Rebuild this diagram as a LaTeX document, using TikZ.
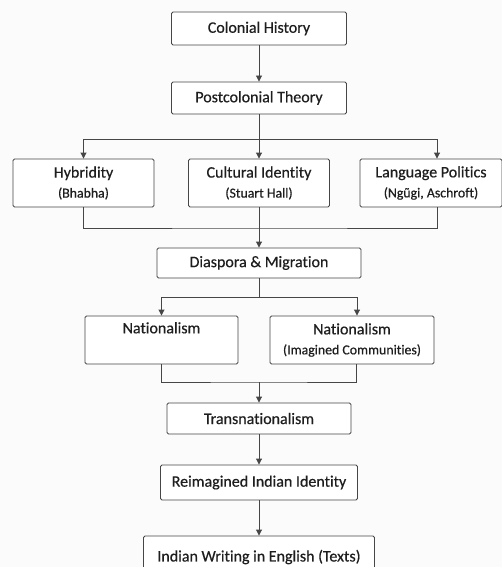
\documentclass[tikz,border=0pt]{standalone}
\usepackage{fontspec}
\setmainfont{Carlito}[FakeBold=0.5, Ligatures=NoCommon]
\usetikzlibrary{arrows.meta}
\newcommand{\subsize}{\fontsize{13.8}{15}\selectfont}
\begin{document}
\begin{tikzpicture}[x=1pt, y=-1pt, >={Triangle[length=6pt, width=6pt]}, font=\fontsize{16}{18}\selectfont]
	\definecolor{linegray}{RGB}{70, 70, 70}
	\definecolor{textdark}{RGB}{30, 30, 30}
	\tikzset{
		box/.style={draw=linegray, line width=0.9pt, rounded corners=1.5pt, fill=white, text=textdark, align=center, inner sep=0pt},
		link/.style={draw=linegray, line width=0.9pt}
	}
	\clip (0,0) rectangle (502,567);
	\fill[gray!3] (0,0) rectangle (502,567);
	\node[box, minimum width=175, minimum height=33] (colonial) at (259,28.5) {Colonial History};
	\node[box, minimum width=175, minimum height=32] (postcol) at (259,98) {Postcolonial Theory};
	% three theory boxes
	\node[box, minimum width=141, minimum height=48] (hyb) at (83.5,183) {Hybridity\\[2pt]{\subsize (Bhabha)}};
	\node[box, minimum width=141, minimum height=48] (cult) at (259,183) {Cultural Identity\\[2pt]{\subsize (Stuart Hall)}};
	\node[box, minimum width=142, minimum height=48] (lang) at (431,183) {Language Politics\\[2pt]{\subsize (Ngũgi, Aschroft)}};
	\node[box, minimum width=204, minimum height=30] (diasp) at (259,263) {Diaspora \& Migration};
	\node[box, minimum width=153, minimum height=48] (nat1) at (161.5,340) {Nationalism\\[2pt]{\subsize\strut}};
	\node[box, minimum width=164, minimum height=48] (nat2) at (352,340) {Nationalism\\[2pt]{\subsize (Imagined Communities)}};
	\node[box, minimum width=184, minimum height=31] (trans) at (259,418.5) {Transnationalism};
	\node[box, minimum width=197, minimum height=35] (reim) at (259,482.5) {Reimagined Indian Identity};
	\node[box, minimum width=231, minimum height=42] (iwe) at (259,557) {Indian Writing in English (Texts)};
	% junctions
	\coordinate (split1) at (259,139);
	\coordinate (merge1) at (259,228);
	\coordinate (split2) at (259,297);
	\coordinate (merge2) at (259,382);
	\draw[link, ->] (colonial) -- (postcol);
	\draw[link] (postcol) -- (split1);
	\draw[link, ->] (split1) -| (hyb.north);
	\draw[link, ->] (split1) -- (cult);
	\draw[link, ->] (split1) -| ([xshift=6pt]lang.north);
	\draw[link] (hyb) |- (merge1) -| ([xshift=6pt]lang.south);
	\draw[link, ->] (cult) -- (diasp);
	\draw[link] (diasp) -- (split2);
	\draw[link, ->] (split2) -| (nat1.north);
	\draw[link, ->] (split2) -| ([xshift=5pt]nat2.north);
	\draw[link] (nat1) |- (merge2) -| ([xshift=4pt]nat2.south);
	\draw[link, ->] (merge2) -- (trans);
	\draw[link, ->] (trans) -- (reim);
	\draw[link, ->] (reim) -- (iwe);
\end{tikzpicture}
\end{document}
